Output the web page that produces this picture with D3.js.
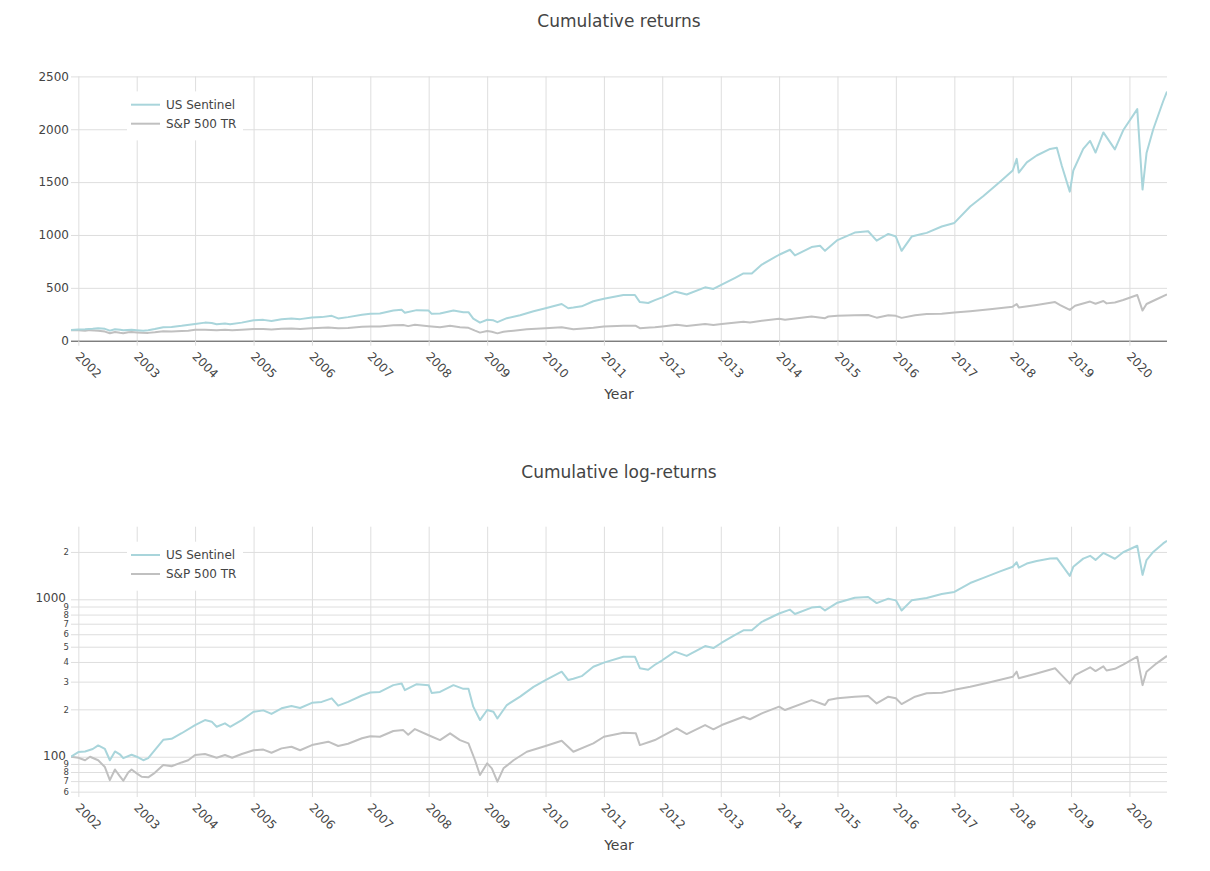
<!DOCTYPE html>
<html><head><meta charset="utf-8">
<script src="https://cdn.jsdelivr.net/npm/d3@7"></script>
<style>
body{margin:0;background:#fff}
svg{display:block}
text{font-family:"DejaVu Sans",Verdana,sans-serif;fill:#444}
</style>
</head><body>
<svg id="chart" width="1210" height="871"></svg>
<script>
// ---------------- data ----------------
const seriesNames = ["US Sentinel", "S&P 500 TR"];
const seriesColors = ["#a9d5db", "#c0c0c0"];

const sentinelPoints = [
["2001-11-16",100],["2002-01-01",107],["2002-02-12",108],["2002-04-01",112],["2002-05-05",118],
["2002-06-16",112],["2002-07-17",95],["2002-08-18",108],["2002-09-20",103],["2002-10-09",98],
["2002-11-30",103],["2003-01-01",100],["2003-02-11",95],["2003-03-14",98],["2003-04-24",110],
["2003-06-16",128],["2003-08-07",130],["2003-10-09",141],["2004-01-01",159],["2004-03-03",171],
["2004-04-14",167],["2004-05-15",155],["2004-07-06",163],["2004-08-07",155],["2004-10-19",171],
["2005-01-01",193],["2005-03-03",197],["2005-04-23",187],["2005-06-25",203],["2005-08-26",210],
["2005-10-19",204],["2006-01-01",220],["2006-03-03",223],["2006-05-05",235],["2006-06-14",211],
["2006-08-15",223],["2006-11-10",245],["2007-01-01",256],["2007-03-02",258],["2007-05-25",285],
["2007-07-16",292],["2007-08-05",265],["2007-10-18",289],["2008-01-01",285],["2008-01-20",254],
["2008-03-12",258],["2008-06-04",285],["2008-08-05",270],["2008-09-06",270],["2008-10-06",208],
["2008-11-17",171],["2009-01-01",198],["2009-02-09",193],["2009-03-06",175],["2009-05-04",213],
["2009-07-26",241],["2009-10-18",278],["2010-01-01",307],["2010-04-12",347],["2010-05-23",307],
["2010-06-24",313],["2010-08-15",325],["2010-10-27",373],["2011-01-01",396],["2011-05-03",432],
["2011-07-14",432],["2011-08-14",365],["2011-10-05",357],["2011-11-16",384],["2012-01-01",410],
["2012-03-20",465],["2012-06-02",437],["2012-09-25",505],["2012-11-16",490],["2013-01-07",530],
["2013-04-01",595],["2013-05-23",636],["2013-07-14",636],["2013-09-15",720],["2014-01-01",813],
["2014-03-10",860],["2014-04-10",807],["2014-07-23",886],["2014-09-14",898],["2014-10-15",850],
["2015-01-01",952],["2015-04-19",1023],["2015-07-12",1035],["2015-09-03",946],["2015-11-15",1010],
["2016-01-01",985],["2016-02-06",850],["2016-04-09",985],["2016-06-11",1010],["2016-07-12",1020],
["2016-10-14",1080],["2017-01-01",1114],["2017-04-10",1269],["2017-07-02",1368],["2017-10-14",1504],
["2018-01-01",1610],["2018-01-26",1720],["2018-02-08",1590],["2018-03-30",1687],["2018-05-31",1752],
["2018-08-23",1814],["2018-10-04",1825],["2018-11-04",1655],["2018-12-24",1410],["2019-01-15",1610],
["2019-03-18",1814],["2019-04-30",1890],["2019-06-03",1780],["2019-07-22",1970],["2019-10-02",1810],
["2019-11-23",1990],["2020-02-19",2190],["2020-03-23",1430],["2020-04-17",1775],["2020-05-29",2000],
["2020-07-30",2265],["2020-08-23",2357]
];

const spPoints = [
["2001-11-16",100],["2002-01-01",98.5],["2002-02-12",95],["2002-03-15",100],["2002-05-05",95],
["2002-06-16",86],["2002-07-17",71],["2002-08-18",83],["2002-09-18",75],["2002-10-09",70.4],
["2002-11-09",79.5],["2002-11-30",83],["2003-01-01",78.4],["2003-02-01",74.6],["2003-03-14",74],
["2003-04-24",79],["2003-06-16",88.6],["2003-08-07",87],["2003-10-09",92],["2003-11-19",95],
["2004-01-01",102.5],["2004-03-03",104],["2004-05-15",98.5],["2004-07-06",102.5],["2004-08-20",98.5],
["2004-10-19",104],["2005-01-01",110],["2005-03-03",111],["2005-04-23",106],["2005-06-25",113],
["2005-08-26",115.8],["2005-10-19",110],["2006-01-01",118.6],["2006-04-13",124.6],["2006-06-14",117],
["2006-08-15",121],["2006-11-10",131],["2007-01-01",135],["2007-03-02",134],["2007-05-25",145.7],
["2007-07-26",147.6],["2007-08-26",138],["2007-10-07",149.9],["2008-01-01",137],["2008-03-12",127.6],
["2008-05-14",140.8],["2008-07-15",127.6],["2008-09-06",121.6],["2008-10-17",95],["2008-11-17",76.5],
["2009-01-01",90.8],["2009-01-30",84.4],["2009-03-06",69.4],["2009-04-13",84.4],["2009-06-15",95],
["2009-09-06",107.6],["2010-01-01",117],["2010-04-12",126.3],["2010-06-24",107.6],["2010-10-27",121.6],
["2011-01-01",134],["2011-05-03",142],["2011-07-20",140.8],["2011-08-14",118.6],["2011-10-16",124.6],
["2011-11-16",127.6],["2012-01-01",135],["2012-04-01",151.5],["2012-06-02",139.4],["2012-09-25",159],
["2012-11-16",149.3],["2013-01-07",159],["2013-05-23",179.6],["2013-07-03",173],["2013-09-15",188.5],
["2014-01-01",208],["2014-02-07",198],["2014-07-23",229],["2014-10-15",213],["2014-11-05",229],
["2015-01-01",235],["2015-04-19",240.7],["2015-07-12",243],["2015-09-03",218],["2015-11-15",240.7],
["2016-01-01",235],["2016-02-06",216],["2016-04-30",240.7],["2016-07-12",253],["2016-10-14",255],
["2017-01-01",266],["2017-04-10",278],["2017-08-12",297],["2018-01-01",322],["2018-01-26",347],
["2018-02-08",315],["2018-05-31",338],["2018-09-23",365],["2018-10-25",337],["2018-12-24",291.6],
["2019-01-26",330],["2019-04-30",370],["2019-06-03",350],["2019-07-22",375],["2019-08-11",353],
["2019-10-02",362],["2019-11-23",385],["2020-02-19",432],["2020-03-23",285],["2020-04-17",347],
["2020-06-19",392],["2020-08-23",437]
];

const yearTicks = [2002,2003,2004,2005,2006,2007,2008,2009,2010,2011,2012,2013,2014,2015,2016,2017,2018,2019,2020];
const linearTicks = [0,500,1000,1500,2000,2500];
const logTickValues = [60,70,80,90,100,200,300,400,500,600,700,800,900,1000,2000];
const logTickLabels = ["6","7","8","9","100","2","3","4","5","6","7","8","9","1000","2"];
const logMajor = [100,1000];
const xDomain = ["2001-11-16","2020-08-23"];

// ---------------- drawing ----------------
const svg = d3.select("#chart");
const left = 71, right = 1167;
const parse = d3.utcParse("%Y-%m-%d");
const x = d3.scaleUtc().domain(xDomain.map(parse)).range([left, right]);
const series = [sentinelPoints, spPoints].map((pts, i) => ({
  name: seriesNames[i], color: seriesColors[i],
  data: pts.map(p => ({date: parse(p[0]), v: p[1]}))
}));
const gridColor = "#dedede";

function drawPanel(cfg) {
  const {top, bottom, y, title, tickValues, tickFormat, isLog, id} = cfg;
  const g = svg.append("g");

  g.append("text").attr("x", (left + right) / 2).attr("y", top - 49)
    .attr("text-anchor", "middle").style("font-size", "17px").text(title);

  const vg = g.append("g").attr("transform", `translate(0,${bottom})`)
    .call(d3.axisBottom(x).tickValues(yearTicks.map(yr => new Date(Date.UTC(yr, 0, 1))))
      .tickSizeInner(-(bottom - top)).tickSizeOuter(0).tickFormat(""));
  vg.select(".domain").remove();
  vg.selectAll("line").attr("stroke", gridColor);

  const hg = g.append("g").attr("transform", `translate(${left},0)`)
    .call(d3.axisLeft(y).tickValues(tickValues).tickSizeInner(-(right - left)).tickSizeOuter(0)
      .tickPadding(2).tickFormat(tickFormat));
  hg.select(".domain").remove();
  hg.selectAll("line").attr("stroke", gridColor);
  hg.selectAll("text").attr("fill", "#444").style("font-family", '"DejaVu Sans",sans-serif')
    .style("font-size", d => (!isLog || logMajor.includes(d)) ? "12px" : "8.5px")
    .attr("x", d => !isLog ? -2 : (logMajor.includes(d) ? -5 : -2))
    .attr("dy", d => (isLog && logMajor.includes(d)) ? "0.2em" : "0.32em");
  if (!isLog) hg.selectAll(".tick").filter(d => d === 0).select("line").attr("stroke", "#444");

  const xa = g.append("g").attr("transform", `translate(0,${bottom})`)
    .call(d3.axisBottom(x).tickValues(yearTicks.map(yr => new Date(Date.UTC(yr, 0, 1))))
      .tickSizeInner(5).tickSizeOuter(0).tickFormat(d3.utcFormat("%Y")));
  xa.select(".domain").remove();
  xa.selectAll("line").attr("stroke", gridColor);
  xa.selectAll("text").attr("fill", "#444").style("font-size", "12px")
    .style("font-family", '"DejaVu Sans",sans-serif')
    .attr("y", 0).attr("dy", 0).attr("text-anchor", "start")
    .attr("transform", "translate(-4,16.5) rotate(45)");

  g.append("text").attr("x", (left + right) / 2).attr("y", bottom + 58)
    .attr("text-anchor", "middle").style("font-size", "14px").text("Year");

  svg.append("clipPath").attr("id", "clip" + id).append("rect")
    .attr("x", left).attr("y", top - 2).attr("width", right - left).attr("height", bottom - top + 4);
  const line = d3.line().x(d => x(d.date)).y(d => y(d.v));
  const lg = g.append("g").attr("clip-path", `url(#clip${id})`);
  series.slice().reverse().forEach(s => {
    lg.append("path").datum(s.data).attr("d", line).attr("fill", "none")
      .attr("stroke", s.color).attr("stroke-width", 2).attr("stroke-linejoin", "round");
  });

  const leg = g.append("g").attr("transform", `translate(127,${top})`);
  leg.append("rect").attr("x", 0).attr("y", 15).attr("width", 116).attr("height", 49).attr("fill", "#fff");
  series.forEach((s, i) => {
    const yy = 28.3 + i * 19;
    leg.append("line").attr("x1", 4).attr("x2", 33).attr("y1", yy).attr("y2", yy)
      .attr("stroke", s.color).attr("stroke-width", 2);
    leg.append("text").attr("x", 39).attr("y", yy).attr("dy", "0.35em")
      .style("font-size", "12px").text(s.name);
  });
}

drawPanel({
  id: 1, top: 76.4, bottom: 340.7, title: "Cumulative returns", isLog: false,
  y: d3.scaleLinear().domain([0, 2500]).range([340.7, 76.4]),
  tickValues: linearTicks, tickFormat: d3.format("d")
});
drawPanel({
  id: 2, top: 526.7, bottom: 792, title: "Cumulative log-returns", isLog: true,
  y: d3.scaleLog().domain([59.7, 2893]).range([792, 526.7]),
  tickValues: logTickValues, tickFormat: (d, i) => logTickLabels[logTickValues.indexOf(d)]
});
</script>
</body></html>
